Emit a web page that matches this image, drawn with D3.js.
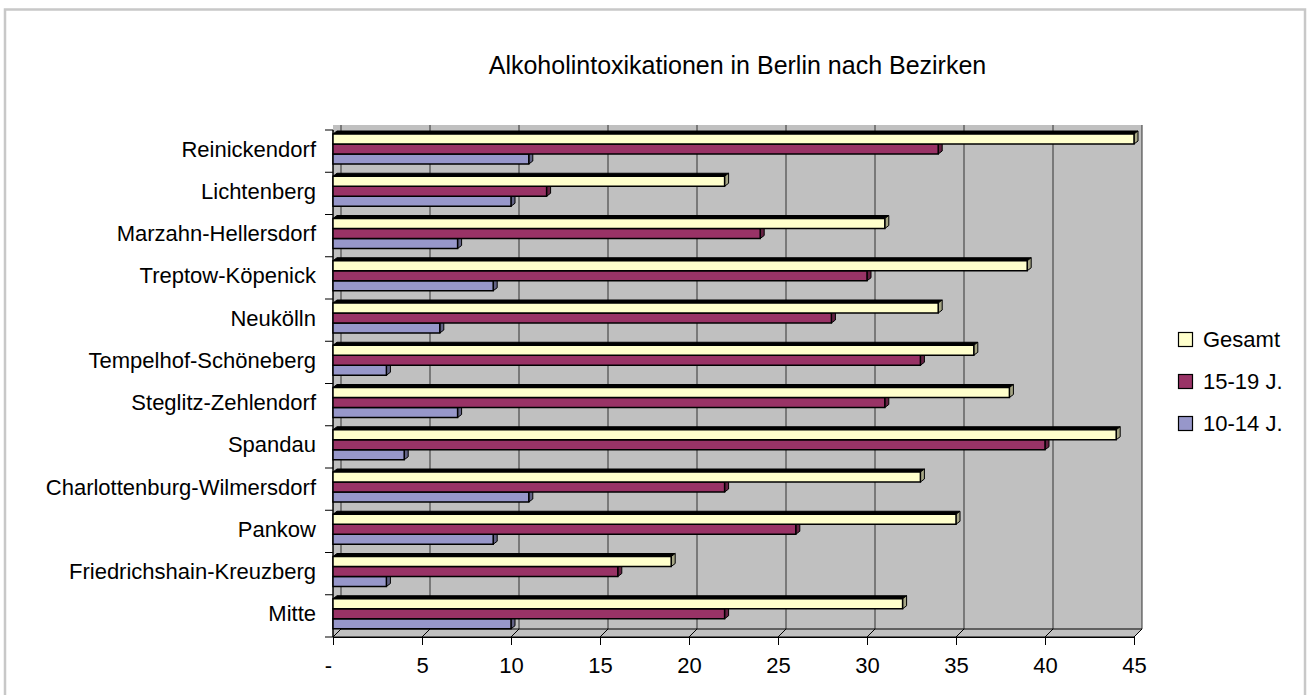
<!DOCTYPE html>
<html>
<head>
<meta charset="utf-8">
<script src="https://cdn.jsdelivr.net/npm/d3@7"></script>
<style>
  html, body { margin: 0; padding: 0; background: #fff; }
  svg { display: block; font-family: "Liberation Sans", Arial, sans-serif; }
</style>
</head>
<body>
<svg id="chart" width="1313" height="695"></svg>
<script>
// ---- data ----
const categories = ["Mitte", "Friedrichshain-Kreuzberg", "Pankow", "Charlottenburg-Wilmersdorf",
  "Spandau", "Steglitz-Zehlendorf", "Tempelhof-Schöneberg", "Neukölln", "Treptow-Köpenick",
  "Marzahn-Hellersdorf", "Lichtenberg", "Reinickendorf"];
const gesamt  = [32, 19, 35, 33, 44, 38, 36, 34, 39, 31, 22, 45];
const j15_19  = [22, 16, 26, 22, 40, 31, 33, 28, 30, 24, 12, 34];
const j10_14  = [10,  3,  9, 11,  4,  7,  3,  6,  9,  7, 10, 11];
const seriesNames = ["Gesamt", "15-19 J.", "10-14 J."];
const xTicks = [0, 5, 10, 15, 20, 25, 30, 35, 40, 45];
const chartTitle = "Alkoholintoxikationen in Berlin nach Bezirken";

const seriesData = [gesamt, j15_19, j10_14];
const colors = ["#FFFFCC", "#993366", "#9797CA"];

(function () {
// ---- layout ----
const svg = d3.select("#chart");
const pLeft = 333, pRight = 1134, pTop = 130, pBottom = 637;
const DX = 8, DY = 8;        // wall depth
const bdx = 4, bdy = 3;      // bar depth

const x = d3.scaleLinear().domain([0, 45]).range([pLeft, pRight]);
const y = d3.scaleBand().domain(categories).range([pBottom, pTop]);
const ys = d3.scaleBand().domain(seriesNames).range([4, 34]);

// outer frame
svg.append("rect").attr("x", 5).attr("y", 9.5).attr("width", 1300).attr("height", 700)
  .attr("fill", "#fff").attr("stroke", "#c8c8c8").attr("stroke-width", 2.5);

// title
svg.append("text").attr("x", 737.5).attr("y", 74).attr("text-anchor", "middle")
  .attr("font-size", 25).attr("fill", "#000").text(chartTitle);

// walls (back wall + side wall, gray)
const wallTop = 125;
svg.append("path")
  .attr("d", `M${pLeft},${wallTop} L${pRight + DX},${wallTop} L${pRight + DX},${pBottom - DY} L${pRight},${pBottom} L${pLeft},${pBottom} Z`)
  .attr("fill", "#C0C0C0");

// gridlines on back wall
svg.append("g").selectAll("line").data(xTicks).join("line")
  .attr("x1", d => x(d) + DX).attr("x2", d => x(d) + DX)
  .attr("y1", wallTop).attr("y2", pBottom - DY)
  .attr("stroke", "#333").attr("stroke-width", 1);

// floor
svg.append("path")
  .attr("d", `M${pLeft},${pBottom} L${pRight},${pBottom} L${pRight + DX},${pBottom - DY} L${pLeft + DX},${pBottom - DY} Z`)
  .attr("fill", "#C0C0C0").attr("stroke", "#000").attr("stroke-width", 1);
svg.append("g").selectAll("line").data(xTicks).join("line")
  .attr("x1", d => x(d)).attr("x2", d => x(d) + DX)
  .attr("y1", pBottom).attr("y2", pBottom - DY)
  .attr("stroke", "#000").attr("stroke-width", 1);

// x axis
const xAxis = d3.axisBottom(x).tickValues(xTicks).tickSize(8).tickPadding(12)
  .tickFormat(d => d === 0 ? "-" : d);
const gx = svg.append("g").attr("transform", `translate(0,${pBottom})`).call(xAxis);
gx.select(".domain").attr("stroke", "#000");
gx.selectAll(".tick line").attr("stroke", "#000");
gx.selectAll(".tick text").attr("font-size", 22).attr("fill", "#000")
  .attr("font-family", "'Liberation Sans', Arial, sans-serif");
gx.selectAll(".tick text").filter(d => d === 0).attr("dx", -5);

// y axis (ticks at band boundaries)
const boundaries = categories.map(c => y(c)).concat([pBottom]);
svg.append("line").attr("x1", pLeft).attr("x2", pLeft).attr("y1", pTop).attr("y2", pBottom)
  .attr("stroke", "#000").attr("stroke-width", 1.5);
svg.append("g").selectAll("line").data(boundaries).join("line")
  .attr("x1", pLeft - 8).attr("x2", pLeft).attr("y1", d => d).attr("y2", d => d)
  .attr("stroke", "#000").attr("stroke-width", 1);

// category labels
svg.append("g").selectAll("text").data(categories).join("text")
  .attr("x", 316).attr("y", c => y(c) + 19)
  .attr("dy", "0.35em").attr("text-anchor", "end")
  .attr("font-size", 22).attr("fill", "#000").text(c => c);

// bars
const barH = ys.bandwidth();
const barsG = svg.append("g");
categories.forEach((c, ci) => {
  for (let si = seriesNames.length - 1; si >= 0; si--) {
    const v = seriesData[si][ci];
    const x0 = x(0), x1 = x(v);
    const y0 = y(c) + ys(seriesNames[si]);
    const col = colors[si];
    const g = barsG.append("g");
    g.append("path")
      .attr("d", `M${x0},${y0} L${x1},${y0} L${x1 + bdx},${y0 - bdy} L${x0 + bdx},${y0 - bdy} Z`)
      .attr("fill", "#000").attr("stroke", "#000").attr("stroke-width", 1);
    g.append("path")
      .attr("d", `M${x1},${y0} L${x1 + bdx},${y0 - bdy} L${x1 + bdx},${y0 + barH - bdy} L${x1},${y0 + barH} Z`)
      .attr("fill", d3.color(col).darker(1.2)).attr("stroke", "#000").attr("stroke-width", 1);
    g.append("rect").attr("x", x0).attr("y", y0).attr("width", x1 - x0).attr("height", barH)
      .attr("fill", col).attr("stroke", "#000").attr("stroke-width", 1.5);
  }
});

// legend
const lg = svg.append("g");
seriesNames.forEach((s, i) => {
  const cy = 339.5 + i * 42;
  lg.append("rect").attr("x", 1178.5).attr("y", cy - 7).attr("width", 14).attr("height", 14)
    .attr("fill", colors[i]).attr("stroke", "#000").attr("stroke-width", 1.2);
  lg.append("text").attr("x", 1203).attr("y", cy + 7.5).attr("font-size", 22)
    .attr("fill", "#000").text(s);
});
})();
</script>
</body>
</html>
